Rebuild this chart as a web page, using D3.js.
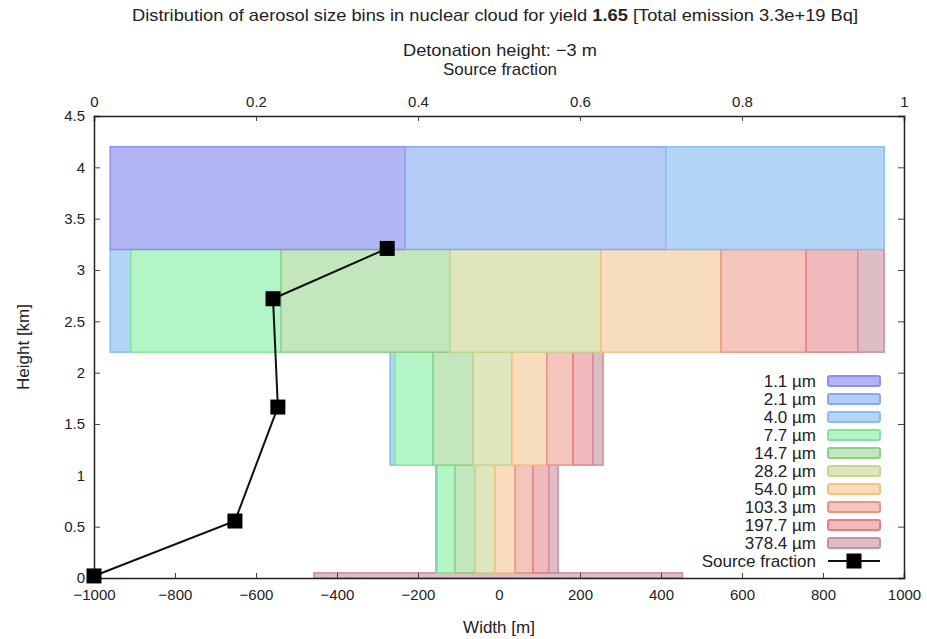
<html>
<head>
<style>
  body{margin:0;background:#fff}
  svg text{font-family:"Liberation Sans",Arial,sans-serif;fill:#222}
  .axis path{stroke:#222;stroke-width:1.5px}
  .axis line{stroke:#444}
  .axis text{font-size:15px}
</style>
</head>
<body>
<div id="chart"></div>
<script src="https://d3js.org/d3.v7.min.js"></script>
<script>
(function () {

  // size bins
  var binLabels = ['1.1 \u00b5m','2.1 \u00b5m','4.0 \u00b5m','7.7 \u00b5m','14.7 \u00b5m',
                   '28.2 \u00b5m','54.0 \u00b5m','103.3 \u00b5m','197.7 \u00b5m','378.4 \u00b5m'];
  var binFill   = ['#b3b6f5','#b4cbf5','#b4d5f6','#b3f5c7','#c3e6bd',
                   '#dfe5bd','#f7ddbd','#f3c5bd','#f2b9bd','#dfbdc4'];
  var binStroke = ['#8a8ef0','#8aa8f0','#88bdf5','#80e59a','#8fd088',
                   '#c5d68a','#f4c07f','#eb9585','#e57f85','#c8909c'];

  // cloud layers (km) and the bin edges across each layer (m)
  var layerBottom = [0, 0.05, 1.1, 2.2, 3.2];
  var layerTop    = [0.05, 1.1, 2.2, 3.2, 4.2];
  var layerFirstBin = [9, 2, 2, 2, 0];
  var layerEdges = [
    [-457, 453],
    [-156, -153, -109, -59, -10, 40, 84, 123, 146],
    [-269, -257, -163, -64, 32, 118, 183, 232, 257],
    [-960, -909, -538, -121, 252, 548, 758, 886, 951],
    [-960, -232, 412, 951]
  ];

  // source fraction per layer
  var srcFraction = [0, 0.174, 0.227, 0.221, 0.362];
  var srcHeight   = [0.02, 0.555, 1.665, 2.72, 3.21];

  var xTicks  = [-1000,-800,-600,-400,-200,0,200,400,600,800,1000];
  var x2Ticks = [0,0.2,0.4,0.6,0.8,1];
  var yTicks  = [0,0.5,1,1.5,2,2.5,3,3.5,4,4.5];

  var W = 927, H = 639,
      L = 94, R = 904, T = 116, B = 578;

  var x  = d3.scaleLinear().domain([-1000, 1000]).range([L, R]);
  var x2 = d3.scaleLinear().domain([0, 1]).range([L, R]);
  var y  = d3.scaleLinear().domain([0, 4.5]).range([B, T]);

  var svg = d3.select('#chart').append('svg')
    .attr('width', W).attr('height', H);

  // rectangles
  var rects = [];
  layerEdges.forEach(function (edges, li) {
    for (var k = 0; k < edges.length - 1; k++) {
      rects.push({b: layerFirstBin[li] + k, x0: edges[k], x1: edges[k + 1],
                  y0: layerBottom[li], y1: layerTop[li]});
    }
  });

  svg.append('g').selectAll('rect').data(rects).enter().append('rect')
    .attr('x', function (d) { return x(d.x0); })
    .attr('y', function (d) { return y(d.y1); })
    .attr('width', function (d) { return x(d.x1) - x(d.x0); })
    .attr('height', function (d) { return y(d.y0) - y(d.y1); })
    .attr('fill', function (d) { return binFill[d.b]; })
    .attr('stroke', function (d) { return binStroke[d.b]; })
    .attr('stroke-width', 1.5);

  // axes (gnuplot style, ticks inside)
  svg.append('g').attr('class', 'axis')
    .attr('transform', 'translate(0,' + B + ')')
    .call(d3.axisBottom(x).tickValues(xTicks).tickSize(-5).tickPadding(11)
      .tickFormat(function (d) { return d < 0 ? '\u2212' + (-d) : d; }));

  svg.append('g').attr('class', 'axis')
    .attr('transform', 'translate(0,' + T + ')')
    .call(d3.axisTop(x2).tickValues(x2Ticks).tickSize(-5).tickPadding(9)
      .tickFormat(d3.format('')));

  svg.append('g').attr('class', 'axis')
    .attr('transform', 'translate(' + L + ',0)')
    .call(d3.axisLeft(y).tickValues(yTicks).tickSize(-6).tickPadding(9)
      .tickFormat(d3.format('')));

  svg.append('g').attr('class', 'axis')
    .attr('transform', 'translate(' + R + ',0)')
    .call(d3.axisRight(y).tickValues(yTicks).tickSize(-6).tickFormat(''));

  // hide end ticks that sit on the frame
  svg.selectAll('.axis .tick line').filter(function (d) {
    return d === 0 || d === 4.5 || d === 1 || d === -1000 || d === 1000;
  }).remove();

  // source fraction line
  var pts = srcFraction.map(function (f, i) { return [f, srcHeight[i]]; });
  svg.append('path')
    .attr('d', d3.line().x(function (d) { return x2(d[0]); }).y(function (d) { return y(d[1]); })(pts))
    .attr('fill', 'none').attr('stroke', '#111').attr('stroke-width', 2);

  svg.append('g').selectAll('rect').data(pts).enter().append('rect')
    .attr('x', function (d) { return x2(d[0]) - 7.5; })
    .attr('y', function (d) { return y(d[1]) - 7.5; })
    .attr('width', 15).attr('height', 15).attr('fill', '#000');

  // legend
  var leg = svg.append('g');
  var legY0 = 381, legDY = 18;
  binLabels.forEach(function (lab, i) {
    var yy = legY0 + i * legDY;
    leg.append('text').attr('x', 816).attr('y', yy + 6)
      .attr('text-anchor', 'end').style('font-size', '17px').text(lab);
    leg.append('rect').attr('x', 828).attr('y', yy - 5).attr('width', 52).attr('height', 10)
      .attr('rx', 2)
      .attr('fill', binFill[i]).attr('stroke', binStroke[i]).attr('stroke-width', 2);
  });
  var ly = legY0 + binLabels.length * legDY;
  leg.append('text').attr('x', 816).attr('y', ly + 6)
    .attr('text-anchor', 'end').style('font-size', '17px').text('Source fraction');
  leg.append('line').attr('x1', 828).attr('x2', 880).attr('y1', ly).attr('y2', ly)
    .attr('stroke', '#111').attr('stroke-width', 2);
  leg.append('rect').attr('x', 846.5).attr('y', ly - 7.5).attr('width', 15).attr('height', 15)
    .attr('fill', '#000');

  // titles
  var title = svg.append('text').attr('x', 495).attr('y', 21)
    .attr('text-anchor', 'middle').style('font-size', '17px')
    .attr('textLength', 726).attr('lengthAdjust', 'spacingAndGlyphs');
  title.append('tspan').text('Distribution of aerosol size bins in nuclear cloud for yield ');
  title.append('tspan').style('font-weight', 'bold').text('1.65');
  title.append('tspan').text(' [Total emission 3.3e+19 Bq]');

  svg.append('text').attr('x', 500).attr('y', 56).attr('text-anchor', 'middle')
    .style('font-size', '17px').attr('textLength', 194).attr('lengthAdjust', 'spacingAndGlyphs')
    .text('Detonation height: \u22123 m');
  svg.append('text').attr('x', 500).attr('y', 75).attr('text-anchor', 'middle')
    .style('font-size', '17px').attr('textLength', 114).attr('lengthAdjust', 'spacingAndGlyphs')
    .text('Source fraction');

  svg.append('text').attr('x', 499).attr('y', 633).attr('text-anchor', 'middle')
    .style('font-size', '17px').text('Width [m]');

  svg.append('text')
    .attr('transform', 'translate(29,347) rotate(-90)')
    .attr('text-anchor', 'middle').style('font-size', '17px').text('Height [km]');

})();
</script>
</body>
</html>
